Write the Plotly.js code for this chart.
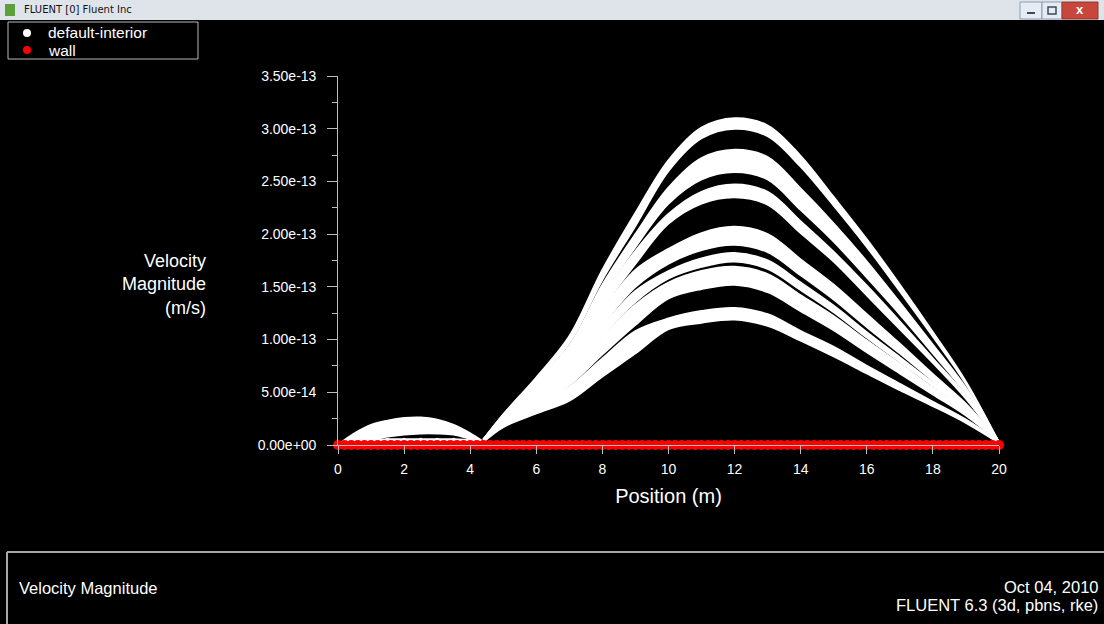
<!DOCTYPE html>
<html><head><meta charset="utf-8">
<script src="https://cdn.plot.ly/plotly-3.0.1.min.js"></script>
<style>html,body{margin:0;padding:0;background:#000;}#chart{width:1104px;height:624px;}</style>
</head><body><div id="chart"></div>
<script>
// values in units of 1e-13 m/s
const UNIT = 1e-13;
const bandX = [4.4,5,6,7,8,9,10,11,12,13,14,15,16,17,18,19,20];
const band1Upper = [0.05,0.29,0.64,1.03,1.66,2.20,2.70,3.01,3.10,3.03,2.74,2.35,1.95,1.52,1.07,0.60,0.02];
const band1Lower = [0.05,0.28,0.62,0.97,1.57,2.08,2.60,2.91,3.00,2.93,2.64,2.27,1.88,1.46,1.03,0.58,0.02];
const band2Upper = [0.05,0.28,0.61,0.94,1.52,2.00,2.44,2.72,2.80,2.73,2.43,2.10,1.74,1.35,0.95,0.54,0.02];
const band2Lower = [0.05,0.27,0.57,0.90,1.42,1.88,2.29,2.52,2.59,2.52,2.23,1.93,1.59,1.24,0.87,0.49,0.03];
const band3Upper = [0.05,0.27,0.57,0.89,1.40,1.84,2.19,2.40,2.47,2.40,2.12,1.83,1.51,1.17,0.82,0.47,0.03];
const band3Lower = [0.05,0.26,0.53,0.83,1.30,1.72,2.10,2.29,2.35,2.28,2.01,1.74,1.42,1.10,0.78,0.44,0.03];
const band4Upper = [0.05,0.26,0.53,0.82,1.28,1.66,1.86,2.01,2.07,2.00,1.76,1.52,1.24,0.96,0.67,0.39,0.03];
const band4Lower = [0.05,0.24,0.46,0.74,1.14,1.50,1.72,1.85,1.90,1.83,1.61,1.38,1.12,0.87,0.61,0.35,0.03];
const band5Upper = [0.05,0.24,0.46,0.73,1.12,1.46,1.65,1.77,1.82,1.75,1.54,1.32,1.07,0.83,0.59,0.34,0.03];
const band5Lower = [0.05,0.22,0.42,0.67,1.04,1.36,1.58,1.69,1.74,1.67,1.47,1.26,1.02,0.79,0.56,0.32,0.03];
const band6Upper = [0.05,0.22,0.42,0.66,1.02,1.33,1.54,1.65,1.69,1.62,1.42,1.22,0.99,0.77,0.54,0.31,0.03];
const band6Lower = [0.05,0.21,0.37,0.57,0.86,1.14,1.39,1.48,1.52,1.45,1.27,1.09,0.88,0.68,0.48,0.28,0.03];
const band7Upper = [0.04,0.21,0.37,0.55,0.82,1.08,1.20,1.27,1.30,1.24,1.08,0.93,0.75,0.58,0.41,0.24,0.03];
const band7Lower = [0.03,0.17,0.30,0.42,0.65,0.87,1.10,1.16,1.19,1.13,0.99,0.84,0.68,0.52,0.37,0.21,0.02];

const humpX = [0,0.5,1,1.5,2,2.5,3,3.5,4,4.35];
const humpUpper = [0.00,0.11,0.19,0.23,0.255,0.26,0.24,0.19,0.11,0.04];
const humpLower = [0.00,0.03,0.05,0.08,0.10,0.11,0.11,0.10,0.06,0.03];
const humpBase  = [0.00,0.03,0.04,0.05,0.05,0.05,0.05,0.05,0.04,0.02];

const wallX = [0,0.2,0.4,0.6,0.8,1,1.2,1.4,1.6,1.8,2,2.2,2.4,2.6,2.8,3,3.2,3.4,3.6,3.8,4,4.2,4.4,4.6,4.8,5,5.2,5.4,5.6,5.8,6,6.2,6.4,6.6,6.8,7,7.2,7.4,7.6,7.8,8,8.2,8.4,8.6,8.8,9,9.2,9.4,9.6,9.8,10,10.2,10.4,10.6,10.8,11,11.2,11.4,11.6,11.8,12,12.2,12.4,12.6,12.8,13,13.2,13.4,13.6,13.8,14,14.2,14.4,14.6,14.8,15,15.2,15.4,15.6,15.8,16,16.2,16.4,16.6,16.8,17,17.2,17.4,17.6,17.8,18,18.2,18.4,18.6,18.8,19,19.2,19.4,19.6,19.8,20];
const wallVelocity = [0,0,0,0,0,0,0,0,0,0,0,0,0,0,0,0,0,0,0,0,0,0,0,0,0,0,0,0,0,0,0,0,0,0,0,0,0,0,0,0,0,0,0,0,0,0,0,0,0,0,0,0,0,0,0,0,0,0,0,0,0,0,0,0,0,0,0,0,0,0,0,0,0,0,0,0,0,0,0,0,0,0,0,0,0,0,0,0,0,0,0,0,0,0,0,0,0,0,0,0,0];

const yTickVals = [0,0.5,1,1.5,2,2.5,3,3.5];
const yTickText = ['0.00e+00','5.00e-14','1.00e-13','1.50e-13','2.00e-13','2.50e-13','3.00e-13','3.50e-13'];
const xTickVals = [0,2,4,6,8,10,12,14,16,18,20];
const legendNames = ['default-interior','wall'];
const legendColors = ['#ffffff','#ff0000'];

const FONT = 'Liberation Sans, Arial, sans-serif';
const s = a => a.map(v => v * UNIT);
const PAD = '\u00a0\u00a0';
const traces = [];
const edge = {color:'#ffffff', width:2, shape:'spline', smoothing:1};
function addBand(x, up, lo){
  traces.push({x:x, y:s(lo), mode:'lines', line:edge, showlegend:false, hoverinfo:'skip', cliponaxis:false});
  traces.push({x:x, y:s(up), mode:'lines', line:edge, fill:'tonexty', fillcolor:'#ffffff', showlegend:false, hoverinfo:'skip', cliponaxis:false});
}
[[band1Upper,band1Lower],[band2Upper,band2Lower],[band3Upper,band3Lower],[band4Upper,band4Lower],
 [band5Upper,band5Lower],[band6Upper,band6Lower],[band7Upper,band7Lower]].forEach(b => addBand(bandX, b[0], b[1]));
addBand(humpX, humpUpper, humpLower);
traces.push({x:humpX, y:s(humpBase), mode:'lines+markers', name:legendNames[0], line:{color:'#ffffff', width:3, shape:'spline'},
             marker:{color:'#ffffff', size:4}, showlegend:false, hoverinfo:'skip', cliponaxis:false});
traces.push({x:wallX, y:wallVelocity, mode:'markers', name:legendNames[1], marker:{color:'#ff0000', size:10}, showlegend:false, cliponaxis:false});

// pixel -> paper helpers (plot area 338..999 x 76..445)
const px = p => (p - 338) / 661;
const py = p => (445 - p) / 369;
const P = (x0,y0,x1,y1) => ({xref:'paper', yref:'paper', x0:px(x0), x1:px(x1), y0:py(y0), y1:py(y1)});

const shapes = [
  Object.assign({type:'rect', fillcolor:'#dfe4ea', line:{width:0}, layer:'below'}, P(0,20,1104,0)),
  Object.assign({type:'rect', fillcolor:'#5f9e3c', line:{width:0}}, P(5,16,15,4)),
  Object.assign({type:'rect', fillcolor:'#e6ecf3', line:{color:'#8e9aab', width:1}}, P(1020,19,1042,2)),
  Object.assign({type:'rect', fillcolor:'#e6ecf3', line:{color:'#8e9aab', width:1}}, P(1042,19,1062,2)),
  Object.assign({type:'rect', fillcolor:'#c9473a', line:{color:'#8e3a30', width:1}}, P(1062,19,1098,2)),
  Object.assign({type:'line', line:{color:'#3a4a5e', width:2}}, P(1027,13,1035,13)),
  Object.assign({type:'rect', line:{color:'#3a4a5e', width:1.5}}, P(1048,14,1056,7)),
  Object.assign({type:'line', line:{color:'#a8a8a8', width:2}}, P(7,552,1104,552)),
  Object.assign({type:'line', line:{color:'#a8a8a8', width:2}}, P(7,552,7,624)),
  // legend box and symbols
  Object.assign({type:'rect', fillcolor:'#000000', line:{color:'#b8b8b8', width:1}}, P(8,59,198,22)),
  Object.assign({type:'circle', fillcolor:legendColors[0], line:{width:0}}, P(23,37,31,29)),
  Object.assign({type:'circle', fillcolor:legendColors[1], line:{width:0}}, P(23,54,31,46))
];

const layout = {
  width:1104, height:624,
  margin:{l:338, r:105, t:76, b:179},
  paper_bgcolor:'#000000', plot_bgcolor:'#000000',
  font:{family:FONT, color:'#ffffff', size:14},
  showlegend:false,
  xaxis:{range:[0,20], tickvals:xTickVals, ticks:'outside', ticklen:8, tickcolor:'#bdbdbd', showgrid:false, zeroline:false,
         showline:true, linecolor:'#bdbdbd', tickfont:{size:14, color:'#ffffff'}, ticklabelstandoff:3,
         title:{text:'Position (m)', font:{size:20, color:'#ffffff'}, standoff:13}},
  yaxis:{range:[0,3.5*UNIT], tickvals:s(yTickVals), ticktext:yTickText.map(t => t + PAD), ticks:'outside', ticklen:10, tickcolor:'#bdbdbd',
         showgrid:false, zeroline:false, showline:true, linecolor:'#bdbdbd', tickfont:{size:14, color:'#ffffff'},
         minor:{ticks:'outside', ticklen:5, tickcolor:'#bdbdbd', dtick:0.25*UNIT, tick0:0, showgrid:false}},
  shapes:shapes,
  annotations:[
    {xref:'paper', yref:'paper', x:px(22), y:py(10), xanchor:'left', yanchor:'middle', showarrow:false,
     text:'FLUENT [0] Fluent Inc', font:{family:'DejaVu Sans, sans-serif', size:10, color:'#111111'}},
    {xref:'paper', yref:'paper', x:px(1080), y:py(10), xanchor:'center', yanchor:'middle', showarrow:false,
     text:'<b>x</b>', font:{size:13, color:'#ffffff'}},
    {xref:'paper', yref:'paper', x:px(47), y:py(33), xanchor:'left', yanchor:'middle', showarrow:false,
     text:legendNames[0], font:{size:15.5, color:'#ffffff'}, borderpad:0},
    {xref:'paper', yref:'paper', x:px(47), y:py(50), xanchor:'left', yanchor:'middle', showarrow:false,
     text:legendNames[1], font:{size:15.5, color:'#ffffff'}, borderpad:0},
    {xref:'paper', yref:'paper', x:px(208), y:py(284), xanchor:'right', yanchor:'middle', align:'right', showarrow:false,
     text:'Velocity<br>Magnitude<br>(m/s)', font:{size:18, color:'#ffffff'}},
    {xref:'paper', yref:'paper', x:px(17), y:py(588), xanchor:'left', yanchor:'middle', showarrow:false,
     text:'Velocity Magnitude', font:{size:16.5, color:'#ffffff'}},
    {xref:'paper', yref:'paper', x:px(1100), y:py(587), xanchor:'right', yanchor:'middle', showarrow:false,
     text:'Oct 04, 2010', font:{size:16.5, color:'#ffffff'}},
    {xref:'paper', yref:'paper', x:px(1100), y:py(605), xanchor:'right', yanchor:'middle', showarrow:false,
     text:'FLUENT 6.3 (3d, pbns, rke)', font:{size:16.5, color:'#ffffff'}}
  ]
};
Plotly.newPlot('chart', traces, layout, {displayModeBar:false, staticPlot:true});
</script></body></html>
